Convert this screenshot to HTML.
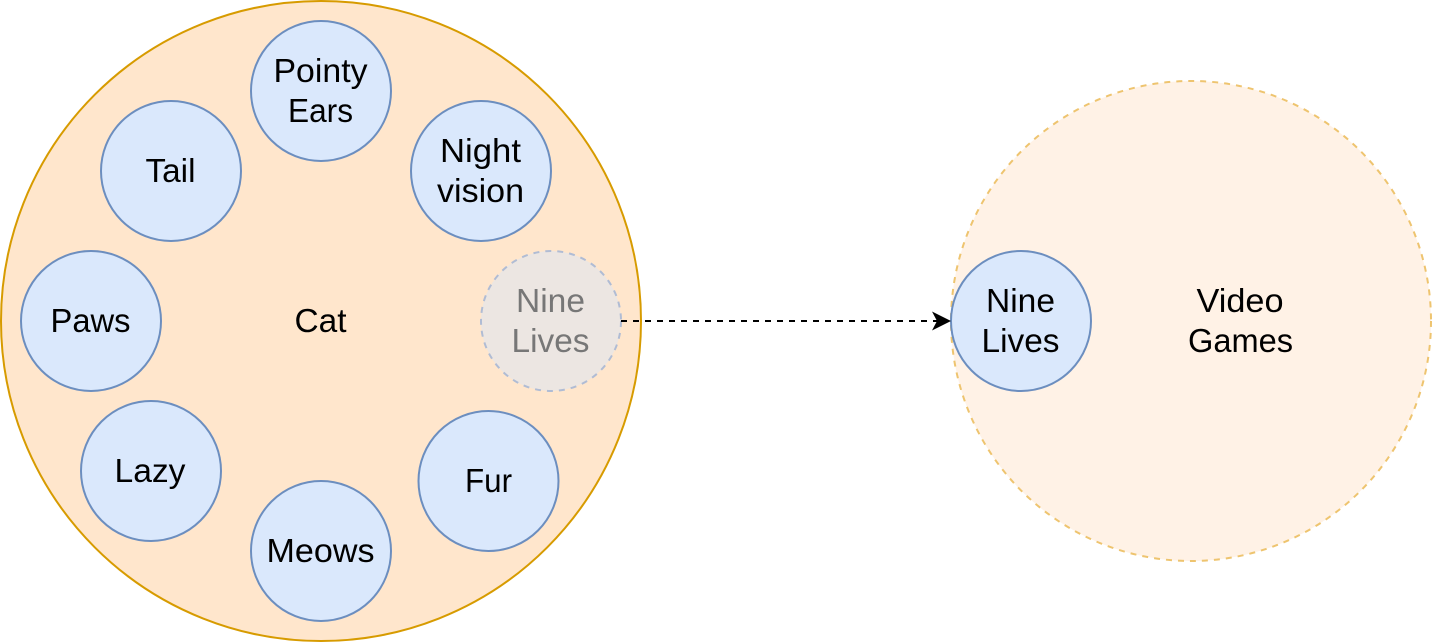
<!DOCTYPE html>
<html>
<head>
<meta charset="utf-8">
<style>
html,body{margin:0;padding:0;background:#fff;width:1434px;height:644px;overflow:hidden}
svg{display:block}
text{font-family:"Liberation Sans",sans-serif;font-size:33px;text-anchor:middle;fill:#000}
</style>
</head>
<body>
<svg width="1434" height="644" viewBox="0 0 1434 644" xmlns="http://www.w3.org/2000/svg">
<circle cx="321" cy="321" r="320" fill="#ffe6cc" stroke="#d79b00" stroke-width="2"/>
<circle cx="1191" cy="321" r="240" fill="#fff2e6" stroke="#eec46f" stroke-width="2" stroke-dasharray="6 6"/>
<g fill="#dae8fc" stroke="#6c8ebf" stroke-width="2">
<circle cx="321" cy="91" r="70"/>
<circle cx="171" cy="171" r="70"/>
<circle cx="481" cy="171" r="70"/>
<circle cx="91" cy="321" r="70"/>
<circle cx="151" cy="471" r="70"/>
<circle cx="321" cy="551" r="70"/>
<circle cx="488.500" cy="481" r="70"/>
<circle cx="1021" cy="321" r="70"/>
</g>
<circle cx="551" cy="321" r="70" fill="#ece6e2" stroke="#b0bcd4" stroke-width="2" stroke-dasharray="6 6"/>
<line x1="621" y1="321" x2="938" y2="321" stroke="#000" stroke-width="2" stroke-dasharray="6 6"/>
<polygon points="951,321 932,311.500 937,321 932,330.500" fill="#000"/>
<text x="320.500" y="82" textLength="94" lengthAdjust="spacingAndGlyphs">Pointy</text>
<text x="320.500" y="122" textLength="65" lengthAdjust="spacingAndGlyphs">Ears</text>
<text x="170.500" y="182" textLength="50" lengthAdjust="spacingAndGlyphs">Tail</text>
<text x="480.500" y="162" textLength="81" lengthAdjust="spacingAndGlyphs">Night</text>
<text x="480.500" y="202" textLength="87" lengthAdjust="spacingAndGlyphs">vision</text>
<text x="90.500" y="332" textLength="80" lengthAdjust="spacingAndGlyphs">Paws</text>
<text x="320.500" y="332" textLength="52" lengthAdjust="spacingAndGlyphs">Cat</text>
<text x="550.500" y="312" textLength="69" lengthAdjust="spacingAndGlyphs" style="fill:#777">Nine</text>
<text x="550.500" y="352" textLength="78" lengthAdjust="spacingAndGlyphs" style="fill:#777">Lives</text>
<text x="150" y="482" textLength="71" lengthAdjust="spacingAndGlyphs">Lazy</text>
<text x="320.500" y="562" textLength="108" lengthAdjust="spacingAndGlyphs">Meows</text>
<text x="488.500" y="492" textLength="47" lengthAdjust="spacingAndGlyphs">Fur</text>
<text x="1020.500" y="312" textLength="69" lengthAdjust="spacingAndGlyphs">Nine</text>
<text x="1020.500" y="352" textLength="78" lengthAdjust="spacingAndGlyphs">Lives</text>
<text x="1240" y="312" textLength="87" lengthAdjust="spacingAndGlyphs">Video</text>
<text x="1240.500" y="352" textLength="105" lengthAdjust="spacingAndGlyphs">Games</text>
</svg>
</body>
</html>
